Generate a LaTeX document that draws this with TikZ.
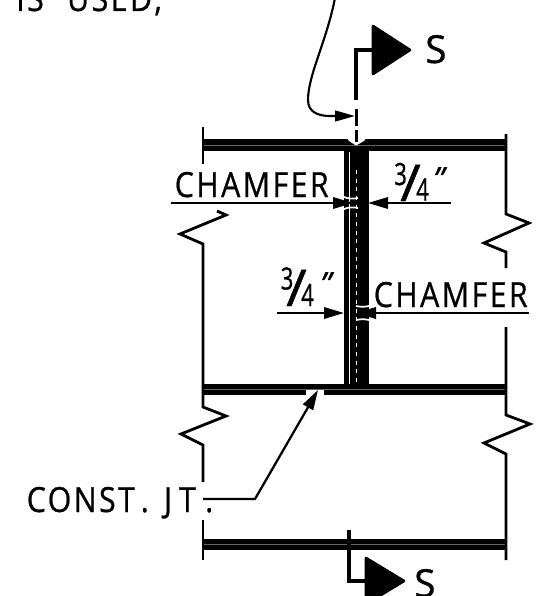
\documentclass[tikz,border=0pt]{standalone}
\usepackage{graphicx}
\usepackage{fontspec}
\setmainfont{Open Sans}[FakeBold=0.8]
\newfontfamily\cadwide[LetterSpace=8,FakeBold=0.8]{Open Sans}
\newcommand{\narrowtxt}[2][0.875]{\scalebox{#1}[1]{#2}}
\usetikzlibrary{arrows.meta}
\tikzset{
  x=0.75pt,y=-0.75pt,
  thinln/.style={line width=2.1pt,black},
  leader/.style={line width=1.7pt,black},
  dimarrow/.style={line width=1.8pt,black,-{Triangle[length=15pt,width=8.5pt]}},
  beam/.style={fill=black,draw=none},
  seam/.style={line width=0.35pt,black!60},
  weld/.style={line width=3.7pt,black},
  flag/.style={fill=black,draw=black,line width=2pt,line join=round},
  notch/.style={line width=1.3pt,white},
  cad/.style={inner sep=0pt,anchor=base west,font=\cadwide\fontsize{26}{30}\selectfont},
  frac/.style={inner sep=0pt,anchor=base west,font=\fontsize{23}{25}\selectfont},
  slashfrac/.style={inner sep=0pt,anchor=base west,font=\fontsize{38}{40}\selectfont},
  quotefrac/.style={inner sep=0pt,anchor=base west,font=\itshape\fontsize{24}{26}\selectfont},
  weldS/.style={inner sep=0pt,anchor=base west,font=\fontsize{29}{32}\selectfont},
}
\begin{document}
\begin{tikzpicture}
\useasboundingbox (0,0) rectangle (537,596);
\clip (0,0) rectangle (537,596);
% beams
\fill[beam] (203,139) rectangle (507,151);
\fill[beam] (203,384) rectangle (507,395);
\fill[beam] (203,539) rectangle (507,550);
\draw[seam] (203,145) -- (507,145);
\draw[seam] (203,389.5) -- (507,389.5);
\draw[seam] (203,544.5) -- (507,544.5);
% wall
\fill[beam] (344,148) rectangle (369,386);
\draw[line width=0.6pt,white] (349.5,152) -- (349.5,384);
\draw[line width=1.4pt,white,dash pattern=on 3pt off 3.5pt] (356.5,170) -- (356.5,384);
% top chamfer notch
\fill[white] (346,137) -- (349,141) -- (356,145.5) -- (364,141) -- (367,137) -- cycle;
% chamfer notches
\draw[notch] (344,197) .. controls (349,199) and (353,199) .. (358,198);
\draw[notch] (344,209) .. controls (349,207) and (353,207) .. (358,208);
\draw[notch] (356,306) .. controls (361,307) and (365,307) .. (369,306);
\draw[notch] (356,320) .. controls (361,319) and (365,319) .. (369,320);
% gap in bottom beam
\fill[white] (306,390) -- (323.5,390) -- (323.5,396) -- (306,396) -- cycle;
% left edge with breaks
\draw[thinln,line join=miter] (203,127) -- (203,164);
\draw[thinln,line join=miter] (217,211) -- (226,215) -- (180,234) -- (203,244) -- (203,384);
\draw[thinln,line join=miter] (203,384) -- (203,407) -- (226,416) -- (181,434) -- (203,445) -- (203,482);
\draw[thinln] (203,520) -- (203,560);
% right edge with breaks
\draw[thinln,line join=miter] (506,134) -- (506,214) -- (529,223) -- (484,243) -- (506,252) -- (506,268);
\draw[thinln,line join=miter] (506,327) -- (506,415) -- (530,424) -- (484,443) -- (506,454) -- (506,560);
% weld symbol top
\draw[weld,line join=miter] (356,100) -- (356,50) -- (372,50);
\fill[flag] (373,26) -- (410,50) -- (373,74) -- cycle;
\node[weldS] (s1) at (425,63) {S};
% centre line and tick
\draw[leader] (356.5,109) -- (356.5,126);
\draw[leader] (356.5,130) -- (356.5,142);
\coordinate (leadA) at (335,-2);
\coordinate (leadB) at (355,116);
\draw[line width=1.6pt,black,-{Triangle[length=15pt,width=8pt]}] (leadA) .. controls (327,40) and (308,75) .. (308,100) .. controls (308,112) and (318,116) .. (330,116) -- (leadB);
% weld symbol bottom
\draw[weld,line join=miter] (349,530) -- (349,581) -- (366,581);
\fill[flag] (366,558) -- (404,581) -- (366,604) -- cycle;
\node[weldS] (s2) at (414,597) {S};
% dimension text and arrows
\node[cad] (cham1) at (174.5,197) {\narrowtxt{CHAMFER}};
\node[cad] (cham2) at (373.5,307) {\narrowtxt{CHAMFER}};
\coordinate (a1) at (171,203); \coordinate (a1t) at (353,203);
\coordinate (a2) at (451,203); \coordinate (a2t) at (368,203);
\coordinate (a3) at (277,313); \coordinate (a3t) at (344,313);
\coordinate (a4) at (529,313); \coordinate (a4t) at (356,313);
\draw[dimarrow] (a1) -- (a1t);
\draw[dimarrow] (a2) -- (a2t);
\draw[dimarrow] (a3) -- (a3t);
\draw[dimarrow] (a4) -- (a4t);
% fractions
\node[frac] (n1) at (394,185) {\narrowtxt[0.72]{3}};
\node[frac] (d1) at (416,200.5) {\narrowtxt[0.72]{4}};
\node[slashfrac] (b1) at (400,201) {\narrowtxt[1.1]{/}};
\node[quotefrac] (q1) at (433,190) {"};
\node[frac] (n2) at (280.5,289.5) {\narrowtxt[0.72]{3}};
\node[frac] (d2) at (301,306) {\narrowtxt[0.72]{4}};
\node[slashfrac] (b2) at (286,306) {\narrowtxt[1.1]{/}};
\node[quotefrac] (q2) at (320,295) {"};
% const joint
\node[cad] (cj) at (26.5,512) {\narrowtxt{CONST\hspace{5pt}.\hspace{13pt}J\hspace{6pt}T\hspace{8pt}.}};
\coordinate (cjA) at (203,499);
\coordinate (cjB) at (255,499);
\coordinate (cjT) at (318,390);
\draw[line width=1.7pt,black,-{Triangle[length=15pt,width=8.5pt]}] (cjA) -- (cjB) -- (cjT);
% top text clipped
\node[cad] (used) at (16,11) {\narrowtxt{IS\hspace{20pt}USED\hspace{2pt},}};
\end{tikzpicture}
\end{document}
